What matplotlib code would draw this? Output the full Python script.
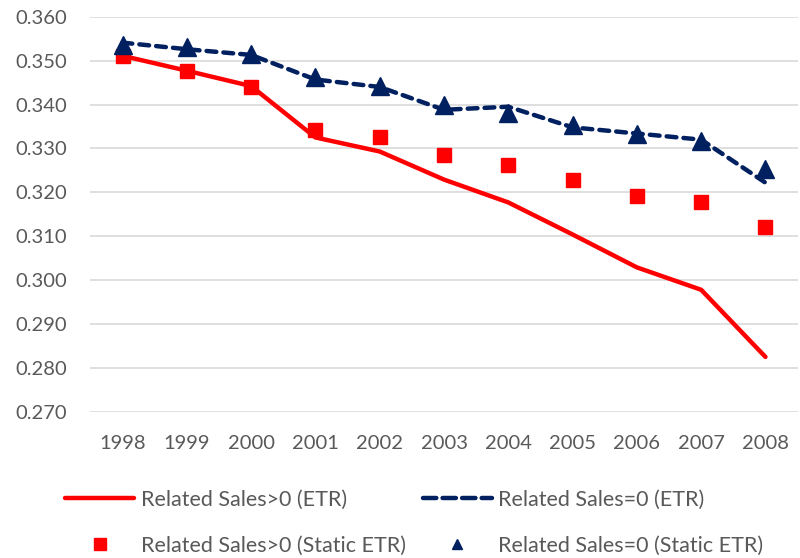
import matplotlib.pyplot as plt
import numpy as np

plt.rcParams['font.family'] = ['Lato', 'DejaVu Sans']

# years on x axis
years = ['1998', '1999', '2000', '2001', '2002', '2003', '2004', '2005', '2006', '2007', '2008']

# values
etr_pos = [0.3511, 0.3477, 0.3442, 0.3325, 0.3293, 0.3229, 0.3177, 0.3104, 0.3029, 0.2978, 0.2825]
etr_zero = [0.3541, 0.3526, 0.3513, 0.3457, 0.3440, 0.3388, 0.3395, 0.3348, 0.3334, 0.3320, 0.3222]
static_pos = [0.3511, 0.3477, 0.3439, 0.3341, 0.3325, 0.3284, 0.3263, 0.3229, 0.3191, 0.3177, 0.3120]
static_zero = [0.3536, 0.3530, 0.3516, 0.3462, 0.3442, 0.3400, 0.3381, 0.3354, 0.3334, 0.3318, 0.3252]

ticks = [0.27, 0.28, 0.29, 0.30, 0.31, 0.32, 0.33, 0.34, 0.35, 0.36]

red = '#ff0000'
navy = '#002060'
grey = '#595959'

fig = plt.figure(figsize=(8, 5.58), dpi=100)
ax = fig.add_axes([0.113, 0.262, 0.884, 0.708])

x = np.arange(len(years))

l1, = ax.plot(x, etr_pos, color=red, lw=3.2, solid_capstyle='round', zorder=3)
l2, = ax.plot(x, etr_zero, color=navy, lw=3.2, dashes=(2.2, 1.6), dash_capstyle='round', zorder=3)
m1, = ax.plot(x, static_pos, ls='none', marker='s', ms=10, color=red, zorder=4)
m2, = ax.plot(x, static_zero, ls='none', marker='^', ms=13, color=navy, zorder=5)

ax.set_xlim(-0.5, len(years) - 0.5)
ax.set_ylim(0.27, 0.36)
ax.set_yticks(ticks)
ax.set_yticklabels([f'{t:.3f}' for t in ticks])
ax.set_xticks(x)
ax.set_xticklabels(years)
ax.grid(axis='y', color='#d9d9d9', lw=1.2)
ax.set_axisbelow(True)
for s in ax.spines.values():
    s.set_visible(False)
ax.tick_params(length=0, labelsize=14.5, colors=grey)
ax.tick_params(axis='x', pad=17)
ax.tick_params(axis='y', pad=17)

# legend under the chart, two columns
leg = fig.legend([l1, m1, l2, m2],
                 ['Related Sales>0 (ETR)', 'Related Sales>0 (Static ETR)',
                  'Related Sales=0 (ETR)', 'Related Sales=0 (Static ETR)'],
                 loc='lower center', bbox_to_anchor=(0.518, 0.0), ncol=2, frameon=False,
                 fontsize=15.5, labelcolor=grey, handlelength=3.2, handletextpad=0.3,
                 columnspacing=0.8, labelspacing=1.2, borderaxespad=0.0, borderpad=0.1)
# smaller markers in the legend
leg.legend_handles[1].set_markersize(8)
leg.legend_handles[3].set_markersize(7)
leg.legend_handles[2].set_dashes((3.0, 1.4))

fig.savefig('out.png', dpi=100)
